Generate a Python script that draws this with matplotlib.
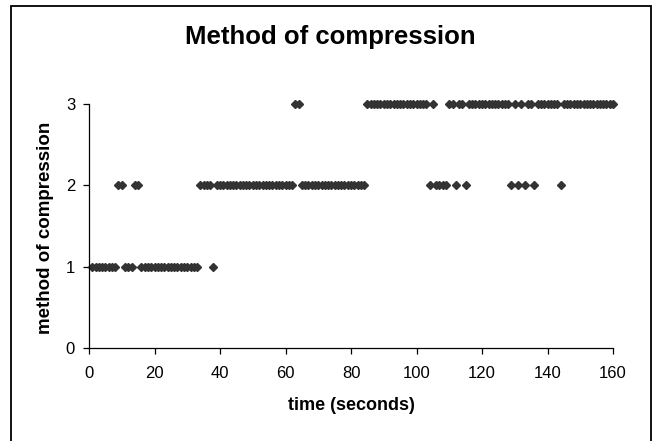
import numpy as np
import matplotlib
matplotlib.use("Agg")
import matplotlib.pyplot as plt
from matplotlib.patches import Rectangle

plt.rcParams['font.family'] = ['Liberation Sans', 'DejaVu Sans']

# compression method chosen at each second (t = 1 .. 160)
method = [
    1, 1, 1, 1, 1, 1, 1, 1, 2, 2, 1, 1, 1, 2, 2, 1, 1, 1, 1, 1,
    1, 1, 1, 1, 1, 1, 1, 1, 1, 1, 1, 1, 1, 2, 2, 2, 2, 1, 2, 2,
    2, 2, 2, 2, 2, 2, 2, 2, 2, 2, 2, 2, 2, 2, 2, 2, 2, 2, 2, 2,
    2, 2, 3, 3, 2, 2, 2, 2, 2, 2, 2, 2, 2, 2, 2, 2, 2, 2, 2, 2,
    2, 2, 2, 2, 3, 3, 3, 3, 3, 3, 3, 3, 3, 3, 3, 3, 3, 3, 3, 3,
    3, 3, 3, 2, 3, 2, 2, 2, 2, 3, 3, 2, 3, 3, 2, 3, 3, 3, 3, 3,
    3, 3, 3, 3, 3, 3, 3, 3, 2, 3, 2, 3, 2, 3, 3, 2, 3, 3, 3, 3,
    3, 3, 3, 2, 3, 3, 3, 3, 3, 3, 3, 3, 3, 3, 3, 3, 3, 3, 3, 3,
]
seconds = np.arange(1, len(method) + 1)

x_ticks = [0, 20, 40, 60, 80, 100, 120, 140, 160]
y_ticks = [0, 1, 2, 3]

W, H = 656, 441
fig = plt.figure(figsize=(W / 100, H / 100), dpi=100)
ax = fig.add_axes([89 / W, 1 - 348 / H, (613 - 89) / W, (348 - 104) / H])

ax.plot(seconds, method, linestyle='none', marker='D', markersize=4.3,
        color='#333333', markeredgecolor='#333333', clip_on=False)

ax.set_xlim(0, 160)
ax.set_ylim(0, 3)
ax.set_xticks(x_ticks)
ax.set_yticks(y_ticks)
ax.spines['top'].set_visible(False)
ax.spines['right'].set_visible(False)
for s in ('left', 'bottom'):
    ax.spines[s].set_linewidth(0.9)
ax.tick_params(axis='both', direction='out', length=4, width=0.9, labelsize=12)
ax.tick_params(axis='x', pad=9)
ax.tick_params(axis='y', pad=6)

fig.text(330 / W, 1 - 37 / H, 'Method of compression', ha='center', va='center',
         fontsize=18.5, fontweight='bold')
fig.text(351 / W, 1 - 406 / H, 'time (seconds)', ha='center', va='center',
         fontsize=13, fontweight='bold')
fig.text(46 / W, 1 - 228 / H, 'method of compression', ha='center', va='center',
         rotation=90, fontsize=13.5, fontweight='bold')

# outer chart border
fig.add_artist(Rectangle((10.5 / W, -0.05), 640 / W, 1.05 - 5.5 / H,
                         transform=fig.transFigure, fill=False,
                         edgecolor='black', linewidth=1.3))

fig.savefig('out.png', dpi=100)
